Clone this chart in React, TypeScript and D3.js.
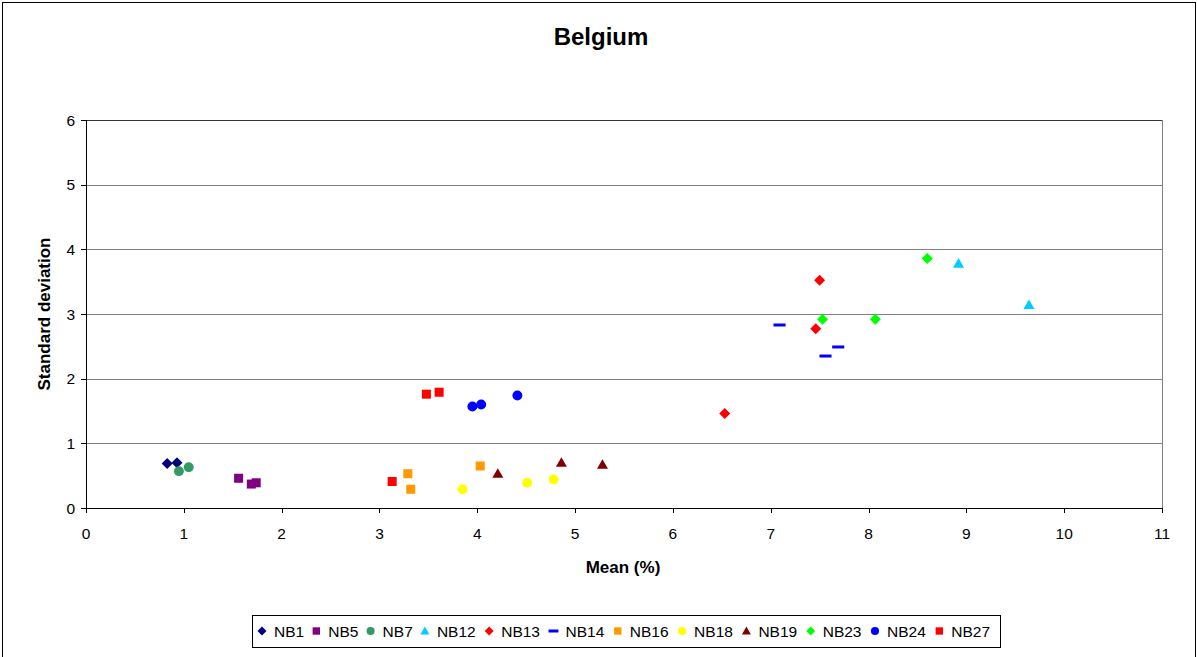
import React, { useEffect } from "react";
import * as d3 from "d3";

const seriesNames = ["NB1", "NB5", "NB7", "NB12", "NB13", "NB14", "NB16", "NB18", "NB19", "NB23", "NB24", "NB27"];
const seriesColors = ["#000080", "#800080", "#339966", "#00CCFF", "#FF0000", "#0000FF", "#FF9900", "#FFFF00", "#800000", "#00FF00", "#0000FF", "#FF0000"];
const seriesShapes = ["diamond", "square", "circle", "triangle", "diamond", "dash", "square", "circle", "triangle", "diamond", "circle", "square"];

const nb1X = [0.83, 0.93];
const nb1Y = [0.69, 0.70];
const nb5X = [1.56, 1.69, 1.74];
const nb5Y = [0.46, 0.37, 0.39];
const nb7X = [0.95, 1.05];
const nb7Y = [0.57, 0.63];
const nb12X = [8.92, 9.64];
const nb12Y = [3.78, 3.14];
const nb13X = [7.50, 7.46, 6.53];
const nb13Y = [3.52, 2.77, 1.46];
const nb14X = [7.09, 7.69, 7.56];
const nb14Y = [2.83, 2.49, 2.35];
const nb16X = [3.29, 3.32, 4.03];
const nb16Y = [0.53, 0.29, 0.65];
const nb18X = [3.85, 4.51, 4.78];
const nb18Y = [0.29, 0.39, 0.44];
const nb19X = [4.21, 4.86, 5.28];
const nb19Y = [0.53, 0.70, 0.67];
const nb23X = [8.60, 7.53, 8.07];
const nb23Y = [3.86, 2.92, 2.92];
const nb24X = [3.95, 4.04, 4.41];
const nb24Y = [1.57, 1.60, 1.74];
const nb27X = [3.48, 3.61, 3.13];
const nb27Y = [1.76, 1.79, 0.41];

const seriesX = [nb1X, nb5X, nb7X, nb12X, nb13X, nb14X, nb16X, nb18X, nb19X, nb23X, nb24X, nb27X];
const seriesY = [nb1Y, nb5Y, nb7Y, nb12Y, nb13Y, nb14Y, nb16Y, nb18Y, nb19Y, nb23Y, nb24Y, nb27Y];

const xTicks = [0, 1, 2, 3, 4, 5, 6, 7, 8, 9, 10, 11];
const yTicks = [0, 1, 2, 3, 4, 5, 6];

const FONT = "Arial, 'Liberation Sans', sans-serif";

function markerPath(shape: string, s: number): string {
  const h = s / 2;
  switch (shape) {
    case "diamond":
      return `M0,${-h}L${h},0L0,${h}L${-h},0Z`;
    case "square":
      return `M${-h * 0.82},${-h * 0.82}H${h * 0.82}V${h * 0.82}H${-h * 0.82}Z`;
    case "triangle":
      return `M0,${-h}L${h},${h * 0.75}L${-h},${h * 0.75}Z`;
    case "dash":
      return `M${-h * 1.1},-1.5H${h * 1.1}V1.5H${-h * 1.1}Z`;
    case "circle":
    default:
      return d3.symbol(d3.symbolCircle, Math.PI * (h * 0.9) * (h * 0.9))() as string;
  }
}

export default function App() {
  useEffect(() => {
    document.body.style.margin = "0";
  }, []);

  const W = 1197, H = 657;
  const left = 86, right = 1162, top = 120, bottom = 508;
  const x = d3.scaleLinear().domain([0, 11]).range([left, right]);
  const y = d3.scaleLinear().domain([0, 6]).range([bottom, top]);

  let cx = 262;
  const legendLayout = seriesNames.map((n) => {
    const item = { marker: cx, text: cx + 12 };
    cx += 24.3 + 10 * n.length;
    return item;
  });

  const legLeft = 252;
  const legRight = 1000;

  return (
    <svg width={W} height={H} style={{ display: "block" }} fontFamily={FONT}>
      <rect x={0} y={0} width={W} height={H} fill="#fff" />
      <rect x={2.5} y={2.5} width={W - 4} height={H + 10} fill="none" stroke="#000" strokeWidth={1} />
      <text x={601} y={45} textAnchor="middle" fontSize={24} fontWeight="bold">Belgium</text>

      {/* gridlines */}
      {yTicks.map((t) => (
        <line key={"g" + t} x1={left} x2={right} y1={Math.round(y(t)) + 0.5} y2={Math.round(y(t)) + 0.5}
          stroke={t === 6 ? "#333" : "#808080"} strokeWidth={1} />
      ))}
      <line x1={right + 0.5} x2={right + 0.5} y1={top} y2={bottom} stroke="#808080" />

      {/* axes */}
      <line x1={left + 0.5} x2={left + 0.5} y1={top} y2={bottom} stroke="#000" />
      <line x1={left} x2={right} y1={bottom + 0.5} y2={bottom + 0.5} stroke="#000" />
      {yTicks.map((t) => (
        <g key={"yt" + t}>
          <line x1={left - 5} x2={left} y1={Math.round(y(t)) + 0.5} y2={Math.round(y(t)) + 0.5} stroke="#000" />
          <text x={left - 11} y={y(t) + 5.5} textAnchor="end" fontSize={15.5}>{t}</text>
        </g>
      ))}
      {xTicks.map((t) => (
        <g key={"xt" + t}>
          <line x1={Math.round(x(t)) + 0.5} x2={Math.round(x(t)) + 0.5} y1={bottom} y2={bottom + 5} stroke="#000" />
          <text x={x(t)} y={539} textAnchor="middle" fontSize={15.5}>{t}</text>
        </g>
      ))}
      <text x={623} y={573} textAnchor="middle" fontSize={17} fontWeight="bold">Mean (%)</text>
      <text transform={`translate(50,${(top + bottom) / 2}) rotate(-90)`} textAnchor="middle" fontSize={17} fontWeight="bold">Standard deviation</text>

      {/* points */}
      {seriesNames.map((n, i) => (
        <g key={n}>
          {seriesX[i].map((vx, j) => (
            <path key={j} d={markerPath(seriesShapes[i], 11)}
              transform={`translate(${x(vx)},${y(seriesY[i][j])})`} fill={seriesColors[i]} />
          ))}
        </g>
      ))}

      {/* legend */}
      <rect x={legLeft + 0.5} y={615.5} width={legRight - legLeft} height={32} fill="#fff" stroke="#000" />
      {seriesNames.map((n, i) => (
        <g key={"l" + n}>
          <path d={markerPath(seriesShapes[i], 9)} transform={`translate(${legendLayout[i].marker},631)`} fill={seriesColors[i]} />
          <text x={legendLayout[i].text} y={637} fontSize={15.5}>{n}</text>
        </g>
      ))}
    </svg>
  );
}
